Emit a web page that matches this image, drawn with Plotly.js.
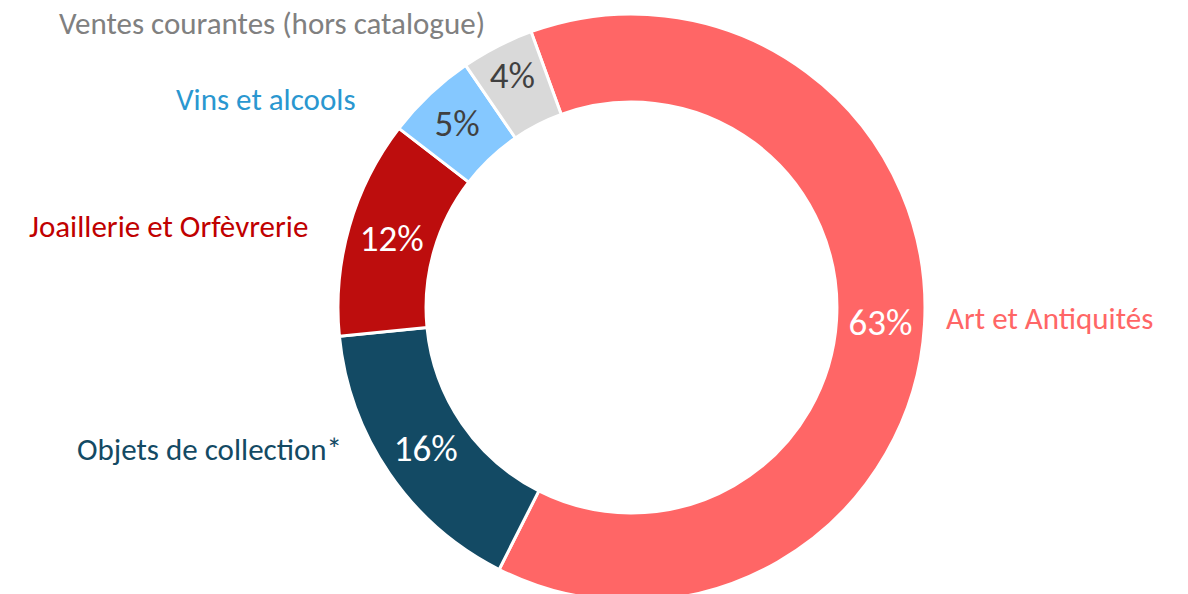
<!DOCTYPE html>
<html>
<head>
<meta charset="utf-8">
<script src="https://cdn.plot.ly/plotly-3.0.1.min.js"></script>
<style>html,body{margin:0;padding:0;background:#fff;overflow:hidden}</style>
</head>
<body>
<div id="chart"></div>
<script>
const categories = ["Art et Antiquités", "Objets de collection*", "Joaillerie et Orfèvrerie", "Vins et alcools", "Ventes courantes (hors catalogue)"];
const shares = [63, 16, 12, 5, 4];
const sliceColors = ["#FF6666", "#134A64", "#BD0D0D", "#85C8FF", "#D9D9D9"];
const labelColors = ["#FF6666", "#134A64", "#C00000", "#2A97D0", "#808080"];
const percentColors = ["#FFFFFF", "#FFFFFF", "#FFFFFF", "#404040", "#404040"];

// Layout only: where each category caption sits (pixels in the 1188x601 page)
const W = 1188, H = 601;
const captionPlacement = [
  {x: 944, y: 318, anchor: "left"},
  {x: 344, y: 449, anchor: "right"},
  {x: 310, y: 226, anchor: "right"},
  {x: 358, y: 99,  anchor: "right"},
  {x: 487, y: 23,  anchor: "right"}
];

const FONT = "Carlito, Lato, sans-serif";

const donut = {
  type: "pie", values: shares, labels: categories,
  sort: false, direction: "clockwise", rotation: -20, hole: 0.70,
  domain: {x: [0.0631, 1.0], y: [0, 587 / H]},
  marker: {colors: sliceColors, line: {color: "#FFFFFF", width: 3}},
  textinfo: "percent", textposition: "inside", insidetextorientation: "horizontal",
  texttemplate: "%{value}%",
  insidetextfont: {family: FONT, size: 37, color: percentColors},
  hoverinfo: "skip", showlegend: false
};

const annotations = categories.map((c, i) => ({
  text: c,
  xref: "paper", yref: "paper",
  x: captionPlacement[i].x / W, y: 1 - captionPlacement[i].y / H,
  xanchor: captionPlacement[i].anchor, yanchor: "middle",
  showarrow: false,
  font: {family: FONT, size: 31, color: labelColors[i]}
}));

Plotly.newPlot("chart", [donut], {
  width: W, height: H,
  margin: {l: 0, r: 0, t: 0, b: 0},
  paper_bgcolor: "#FFFFFF",
  font: {family: FONT},
  annotations: annotations
}, {displayModeBar: false, staticPlot: true});
</script>
</body>
</html>
